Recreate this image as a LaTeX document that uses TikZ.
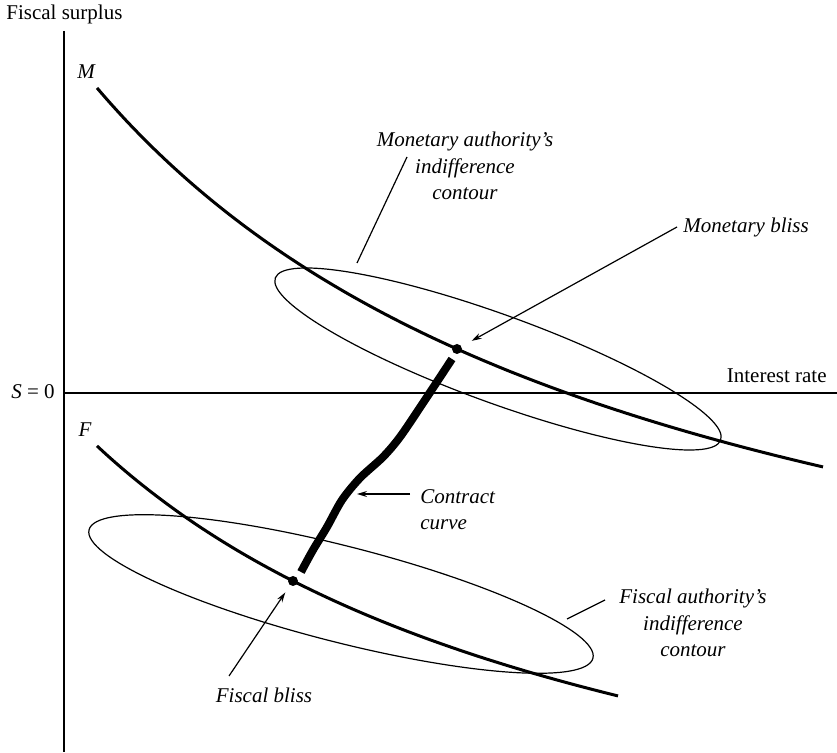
\documentclass[tikz,border=0pt]{standalone}
\usepackage{fontspec}
\setmainfont{Liberation Serif}
\usetikzlibrary{arrows.meta}

\begin{document}
\begin{tikzpicture}[x=0.5pt,y=-0.5pt,>={Stealth[length=5pt,width=3pt]},
  font=\fontsize{10.5}{13.3}\selectfont,
  axis/.style={line width=0.9pt},
  curve/.style={line width=1.5pt},
  contour/.style={line width=0.6pt},
  pointer/.style={line width=0.6pt},
  bliss/.style={circle,fill,inner sep=0pt,minimum size=5pt},
  lbl/.style={font=\fontsize{10.5}{13.3}\selectfont\itshape,inner sep=0pt}]
  \useasboundingbox (0,0) rectangle (837,753);

  % axes
  \coordinate (ytop) at (64,31);
  \coordinate (ybot) at (64,752);
  \coordinate (xleft) at (64,393);
  \coordinate (xright) at (837,393);
  \draw[axis] (ytop) -- (ybot);
  \draw[axis] (xleft) -- (xright);
  \node[anchor=base west,inner sep=0pt] (ylabel) at (6,20) {Fiscal surplus};
  \node[anchor=base east,inner sep=0pt] (szero) at (55,399) {\textit{S} = 0};
  \node[anchor=base east,inner sep=0pt] (xlabel) at (827,383) {Interest rate};

  % reaction curves
  \node[lbl] (mlab) at (86,72) {M};
  \node[lbl] (flab) at (85,430) {F};
  \draw[curve] plot[domain=97:823,samples=80,smooth] (\x,{770.2-396.373/((\x+484)/1000)});
  \draw[curve] plot[domain=97:618,samples=80,smooth] (\x,{959.8-282.603/((\x+453)/1000)});

  % indifference contours
  \draw[contour,rotate around={-20:(498,359)}] (498,359) ellipse [x radius=118.5pt, y radius=22pt];
  \draw[contour,rotate around={-14.3:(341,594)}] (341,594) ellipse [x radius=130pt, y radius=24pt];

  % contract curve
  \draw[line width=4pt] plot[smooth] coordinates {(301,572) (313,550) (327,527) (342,500) (360,478) (383,457) (400,437) (423,403) (452,359)};

  % bliss points
  \node[bliss] (mbliss) at (457,349) {};
  \node[bliss] (fbliss) at (293,581) {};

  % labels
  \node[lbl,align=center] (mclabel) at (465,166) {Monetary authority's\\indifference\\contour};
  \node[lbl,anchor=base west] (mblabel) at (683,233) {Monetary bliss};
  \node[lbl,align=left,anchor=north west] (cclabel) at (420,489) {Contract\\curve};
  \node[lbl,align=center] (fclabel) at (693,623) {Fiscal authority's\\indifference\\contour};
  \node[lbl,anchor=base] (fblabel) at (264,703) {Fiscal bliss};

  \coordinate (mcfrom) at (407,157);
  \coordinate (mcto) at (357,263);
  \coordinate (mbfrom) at (677,227);
  \coordinate (ccfrom) at (410,494);
  \coordinate (ccto) at (357,494);
  \coordinate (fcfrom) at (605,600);
  \coordinate (fcto) at (567,619);
  \coordinate (fbfrom) at (229,676);

  \draw[pointer] (mcfrom) -- (mcto);
  \draw[pointer,->,shorten >=5.7pt] (mbfrom) -- (mbliss);
  \draw[pointer,->] (ccfrom) -- (ccto);
  \draw[pointer] (fcfrom) -- (fcto);
  \draw[pointer,->,shorten >=4.2pt] (fbfrom) -- (fbliss);
\end{tikzpicture}
\end{document}
